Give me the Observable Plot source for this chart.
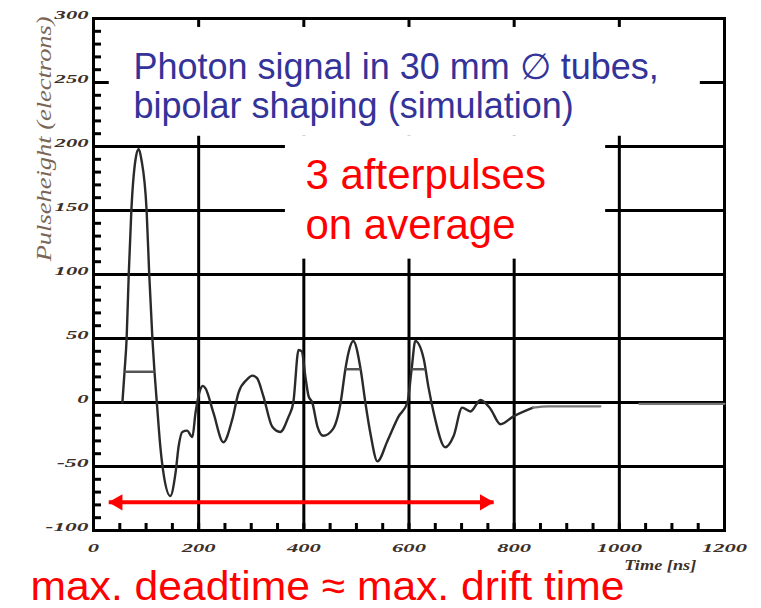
<!DOCTYPE html>
<html><head><meta charset="utf-8">
<script src="https://cdn.jsdelivr.net/npm/d3@7"></script>
<script src="https://cdn.jsdelivr.net/npm/@observablehq/plot@0.6"></script>
<style>body{margin:0;background:#fff;} svg{display:block}</style>
</head><body><div id="chart"></div>
<script>
// ---- data ----
const time  = [55,59,63,67,72,80,86,91,101,106,112,116,121,127,133,146,156,162,169,178,188,194,203,208,213,228,247,264,276,292,302,311,323,340,355,371,380,390,396,403,409,416,426,437,455,470,479,485,494,508,517,527,540,559,580,597,605,612,628,637,647,669,685,701,717,736,755,774,798,836,865,964,1000,1038,1200];
const pulse = [0,24,50,100,150,190,198,190,150,100,50,24,-3,-34,-55,-73,-55,-34,-23,-22,-27,-8,10,13,11,-8,-31,-13,8,18,21,19,5,-19,-23,-11,0,41,40,20,5,0,-19,-26,-21,0,26,39,48,26,0,-25,-46,-30,-11,0,26,48,34,12,-8,-35,-26,-4,-7,2,-5,-17,-11,-4,-3,-3,null,-1,-1];
const hBarStart = [59, 479, 605];
const hBarEnd   = [116, 508, 631];
const hBarLevel = [24, 26, 26];
const xTickLabels = [0, 200, 400, 600, 800, 1000, 1200];
const yTickLabels = [-100, -50, 0, 50, 100, 150, 200, 250, 300];
const xGrid = [200, 400, 600, 800, 1000];
const yGrid = [-50, 0, 50, 100, 150, 200, 250];
const xMinor = d3.range(50, 1200, 50);
const yMinor = d3.range(-90, 300, 10);
const arrowEnds = [29, 761];
const arrowLevel = -78;
const titleLines = ["Photon signal in 30 mm \u2205 tubes,", "bipolar shaping (simulation)"];
const noteLines = ["3 afterpulses", "on average"];
const footnote = "max. deadtime \u2248 max. drift time";
const xTitle = "Time [ns]";
const yTitle = "Pulseheight (electrons)";

// ---- tables ----
const signal = time.map((t, i) => ({t, v: pulse[i]}));
const tailStart = 836;
const bars = hBarStart.map((s, i) => ({t1: s, t2: hBarEnd[i], v: hBarLevel[i]}));
const boxes = [
  {x1: 30, x2: 1154, y1: 208, y2: 293},
  {x1: 365, x2: 974, y1: 112, y2: 208}
];
const arrow = [{a: arrowEnds[0], b: arrowEnds[1], v: arrowLevel}];

const tickFont = {fontFamily: "Liberation Serif", fontStyle: "italic", fontWeight: "bold", fontSize: 13, fill: "#3d3028"};

const svg = Plot.plot({
  width: 761, height: 608,
  marginLeft: 93, marginRight: 37, marginTop: 18, marginBottom: 78,
  x: {domain: [0, 1200]},
  y: {domain: [-100, 300]},
  style: {background: "white", overflow: "visible"},
  marks: [
    Plot.ruleX(xGrid, {stroke: "black", strokeWidth: 3}),
    Plot.ruleY(yGrid, {stroke: "black", strokeWidth: 3}),
    Plot.rect(boxes, {x1: "x1", x2: "x2", y1: "y1", y2: "y2", fill: "white"}),
    Plot.axisY(yMinor, {anchor: "left", tickSize: -8, strokeWidth: 3, tickFormat: () => "", label: null}),
    Plot.axisX(xMinor, {anchor: "bottom", tickSize: -7, strokeWidth: 3, tickFormat: () => "", label: null}),
    Plot.axisY(yTickLabels, {anchor: "left", tickSize: 0, tickPadding: 5, dy: -4, tickFormat: d => String(d), label: null, ...tickFont}),
    Plot.axisX(xTickLabels, {anchor: "bottom", tickSize: 0, tickPadding: 12, tickFormat: d => String(d), label: null, ...tickFont}),
    Plot.frame({stroke: "black", strokeWidth: 3}),
    Plot.line(signal.filter(d => d.t <= tailStart), {x: "t", y: "v", stroke: "#2a2a2a", strokeWidth: 2.4, curve: "monotone-x"}),
    Plot.line(signal.filter(d => d.t >= tailStart), {x: "t", y: "v", stroke: "#777", strokeWidth: 2.2, curve: "monotone-x"}),
    Plot.link(bars, {x1: "t1", x2: "t2", y1: "v", y2: "v", stroke: "#555", strokeWidth: 2.5}),
    Plot.link(arrow, {x1: "a", x2: "b", y1: "v", y2: "v", stroke: "red", strokeWidth: 4}),
    Plot.dot(arrow, {x: "a", y: "v", symbol: "triangle", r: 6, fill: "red", stroke: "none", rotate: -90, dx: 9}),
    Plot.dot(arrow, {x: "b", y: "v", symbol: "triangle", r: 6, fill: "red", stroke: "none", rotate: 90, dx: -9}),
    Plot.text([titleLines.join("\n")], {x: () => 76, y: () => 222, text: d => d, textAnchor: "start", lineAnchor: "bottom", lineHeight: 1.1, fontFamily: "Liberation Sans", fontSize: 36, fill: "#333399"}),
    Plot.text([noteLines.join("\n")], {x: () => 403, y: () => 128, text: d => d, textAnchor: "start", lineAnchor: "bottom", lineHeight: 1.19, fontFamily: "Liberation Sans", fontSize: 42, fill: "red"}),
    Plot.text([footnote], {x: () => -120, y: () => -154, text: d => d, textAnchor: "start", lineAnchor: "bottom", fontFamily: "Liberation Sans", fontSize: 41.5, fill: "red"}),
    Plot.text([xTitle], {x: () => 1078, y: () => -127, text: d => d, textAnchor: "middle", fontFamily: "Liberation Serif", fontStyle: "italic", fontWeight: "bold", fontSize: 14, fill: "#3d3028"}),
    Plot.text([yTitle], {x: () => -95, y: () => 206, text: d => d, textAnchor: "middle", rotate: -90, fontFamily: "Liberation Serif", fontStyle: "italic", fontSize: 22, fill: "#7a6656"})
  ]
});

// stretch the small italic labels horizontally like the scanned figure
const sel = d3.select(svg);
sel.selectAll('g[aria-label="y-axis tick label"] text, g[aria-label="x-axis tick label"] text').each(function() {
  const s = this.textContent;
  if (!s) return;
  const digits = s.replace("-", "").length;
  const w = digits * 11.3 + (s.startsWith("-") ? 9 : 0);
  this.setAttribute("textLength", w);
  this.setAttribute("lengthAdjust", "spacingAndGlyphs");
});
sel.selectAll("text").filter(function() { return this.textContent === xTitle; })
  .attr("textLength", 72).attr("lengthAdjust", "spacingAndGlyphs");
sel.selectAll("text").filter(function() { return this.textContent === yTitle; })
  .attr("textLength", 245).attr("lengthAdjust", "spacingAndGlyphs");
sel.selectAll("text").filter(function() { return this.textContent === footnote; })
  .attr("textLength", 594).attr("lengthAdjust", "spacingAndGlyphs");

document.getElementById("chart").append(svg);
</script>
</body></html>
